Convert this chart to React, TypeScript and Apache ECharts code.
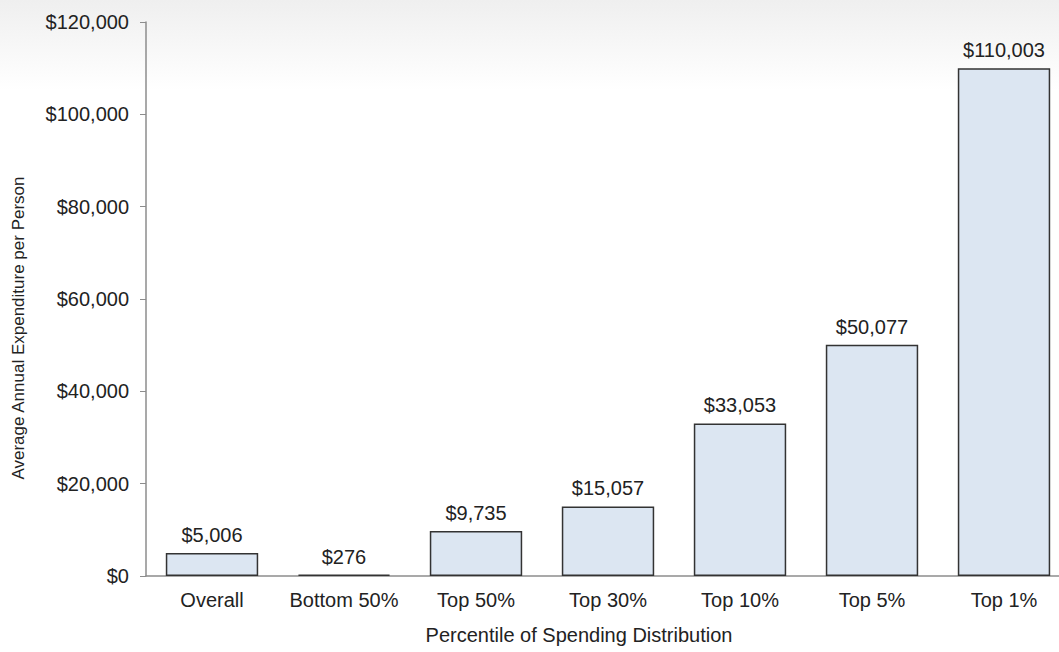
import React, { useEffect, useRef } from "react";
import * as echarts from "echarts";

const categories = ["Overall", "Bottom 50%", "Top 50%", "Top 30%", "Top 10%", "Top 5%", "Top 1%"];
const values = [5006, 276, 9735, 15057, 33053, 50077, 110003];
const yTicks = [0, 20000, 40000, 60000, 80000, 100000, 120000];

const fmt = (v: number) => "$" + v.toLocaleString("en-US");

export default function App() {
  const ref = useRef<HTMLDivElement>(null);
  useEffect(() => {
    if (!ref.current) return;
    const chart = echarts.init(ref.current, null, { renderer: "svg" });
    const font = "Arial, 'Liberation Sans', sans-serif";
    chart.setOption({
      animation: false,
      backgroundColor: "#ffffff",
      graphic: [
        {
          type: "rect",
          silent: true,
          z: -10,
          shape: { x: 0, y: 0, width: 1100, height: 90 },
          style: {
            fill: new echarts.graphic.LinearGradient(0, 0, 0, 1, [
              { offset: 0, color: "#efefef" },
              { offset: 1, color: "#ffffff" },
            ]),
          },
        },
        {
          type: "text",
          x: 579,
          y: 635,
          style: {
            text: "Percentile of Spending Distribution",
            font: `20px ${font}`,
            fill: "#222222",
            align: "center",
            verticalAlign: "middle",
          },
        },
        {
          type: "text",
          x: 18,
          y: 328,
          rotation: Math.PI / 2,
          style: {
            text: "Average Annual Expenditure per Person",
            font: `17px ${font}`,
            fill: "#222222",
            align: "center",
            verticalAlign: "middle",
          },
        },
      ],
      grid: { left: 146, top: 22, width: 924, height: 554, containLabel: false },
      xAxis: {
        type: "category",
        data: categories,
        axisLine: { lineStyle: { color: "#8c8c8c", width: 1.5 } },
        axisTick: { show: false },
        axisLabel: { color: "#222222", fontSize: 20, fontFamily: font, margin: 14, interval: 0 },
      },
      yAxis: {
        type: "value",
        min: 0,
        max: 120000,
        interval: 20000,
        axisLine: { show: true, lineStyle: { color: "#8c8c8c", width: 1.5 } },
        axisTick: { show: true, length: 6, lineStyle: { color: "#8c8c8c" } },
        splitLine: { show: false },
        axisLabel: {
          color: "#222222",
          fontSize: 20,
          fontFamily: font,
          margin: 17,
          formatter: (v: number) => (yTicks.includes(v) ? fmt(v) : ""),
        },
      },
      series: [
        {
          type: "bar",
          data: values,
          barWidth: "70%",
          itemStyle: { color: "#dce6f2", borderColor: "#333333", borderWidth: 1.5 },
          label: {
            show: true,
            position: "top",
            distance: 8,
            color: "#222222",
            fontSize: 20,
            fontFamily: font,
            formatter: (p: any) => fmt(p.value),
          },
        },
      ],
    });
    return () => chart.dispose();
  }, []);
  return (
    <div
      style={{ position: "absolute", left: 0, top: 0, width: 1059, height: 652, overflow: "hidden" }}
    >
      <div ref={ref} style={{ width: 1100, height: 652 }} />
    </div>
  );
}
